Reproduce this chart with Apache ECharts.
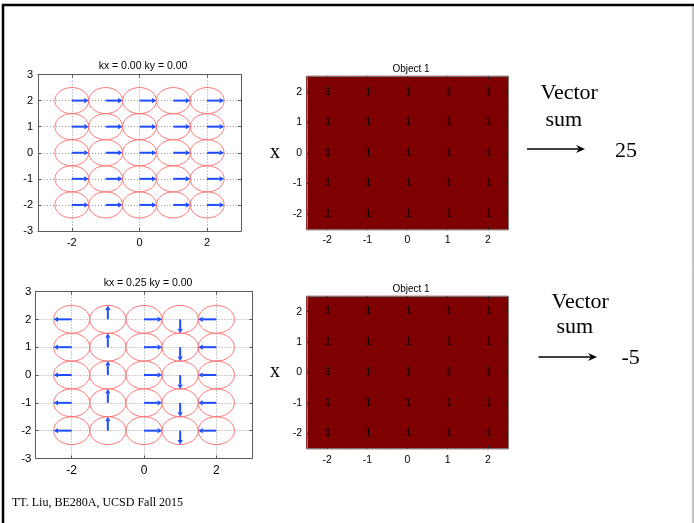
<!DOCTYPE html>
<html>
<head>
<meta charset="utf-8">
<script src="https://cdn.jsdelivr.net/npm/echarts@6/dist/echarts.min.js"></script>
<style>html,body{margin:0;padding:0;background:#fff}#main{width:694px;height:523px}</style>
</head>
<body>
<div id="main"></div>
<script>
// sample positions (both x and y) and labels
var gridPos = [-2, -1, 0, 1, 2];
var cellCats = ['-2', '-1', '0', '1', '2'];
var xTicksLeft = [-2, 0, 2];
var titlesLeft = ['kx = 0.00 ky = 0.00', 'kx = 0.25 ky = 0.00'];
var titleRight = 'Object 1';
// arrow direction per column, degrees counter-clockwise from +x
var dirTop = [0, 0, 0, 0, 0];
var dirBottom = [180, 90, 0, 270, 180];
// object values, rows from y=-2 up to y=2
var objValues = [
  [1, 1, 1, 1, 1],
  [1, 1, 1, 1, 1],
  [1, 1, 1, 1, 1],
  [1, 1, 1, 1, 1],
  [1, 1, 1, 1, 1]
];
var vectorSums = [25, -5];

var SANS = '"Liberation Sans", Arial, Helvetica, sans-serif';
var SERIF = '"Liberation Serif", "Times New Roman", serif';
var BLUE = '#1f4cff';
var RED = '#ff7676';
var BOX = '#5a5a5a';
var DARKRED = '#7f0000';

var myChart = echarts.init(document.getElementById('main'));

function circleData(){
  var d = [];
  for (var i = 0; i < gridPos.length; i++)
    for (var j = 0; j < gridPos.length; j++) d.push([gridPos[i], gridPos[j]]);
  return d;
}
function arrowData(dirs){
  var d = [];
  for (var i = 0; i < gridPos.length; i++)
    for (var j = 0; j < gridPos.length; j++) d.push([gridPos[i], gridPos[j], dirs[i]]);
  return d;
}
function heatData(){
  var d = [];
  for (var r = 0; r < objValues.length; r++)
    for (var c = 0; c < objValues[r].length; c++) d.push([c, r, objValues[r][c]]);
  return d;
}

function renderCircle(params, api){
  var c = api.coord([api.value(0), api.value(1)]);
  var s = api.size([1, 1]);
  return {
    type: 'ellipse',
    shape: {cx: c[0], cy: c[1], rx: s[0] * 0.5, ry: s[1] * 0.5},
    style: {fill: 'none', stroke: RED, lineWidth: 1}
  };
}
function renderArrow(params, api){
  var x = api.value(0), y = api.value(1), a = api.value(2) * Math.PI / 180;
  var p0 = api.coord([x, y]);
  var p1 = api.coord([x + 0.5 * Math.cos(a), y + 0.5 * Math.sin(a)]);
  var dx = p1[0] - p0[0], dy = p1[1] - p0[1];
  var len = Math.sqrt(dx * dx + dy * dy);
  var ux = dx / len, uy = dy / len, h = 4.5, w = 2.6;
  var bx = p1[0] - ux * h, by = p1[1] - uy * h;
  return {
    type: 'group',
    children: [
      {type: 'line', shape: {x1: p0[0], y1: p0[1], x2: bx, y2: by}, style: {stroke: BLUE, lineWidth: 2}},
      {type: 'polygon', shape: {points: [[p1[0], p1[1]], [bx - uy * w, by + ux * w], [bx + uy * w, by - ux * w]]}, style: {fill: BLUE}}
    ]
  };
}

// value axes for the quiver plots
function leftX(gi, fs, margin, top){
  return {
    gridIndex: gi, type: 'value', min: -3, max: 3, interval: 1,
    position: top ? 'top' : 'bottom',
    axisLine: {show: true, onZero: false, lineStyle: {color: BOX, width: 1}},
    axisTick: {show: true, inside: true, length: 3, customValues: xTicksLeft, lineStyle: {color: BOX}},
    axisLabel: {show: !top, customValues: xTicksLeft, color: '#000', fontSize: fs, fontFamily: SANS, margin: margin},
    splitLine: {show: !top, customValues: xTicksLeft, lineStyle: {type: [1, 2], color: '#9a9a9a'}}
  };
}
function leftY(gi, fs, margin, right){
  return {
    gridIndex: gi, type: 'value', min: -3, max: 3, interval: 1,
    position: right ? 'right' : 'left',
    axisLine: {show: true, onZero: false, lineStyle: {color: BOX, width: 1}},
    axisTick: {show: true, inside: true, length: 3, lineStyle: {color: BOX}},
    axisLabel: {show: !right, color: '#000', fontSize: fs, fontFamily: SANS, margin: margin},
    splitLine: {show: !right, lineStyle: {type: [1, 2], color: '#9a9a9a'}}
  };
}
// category axes for the object images
function catAxis(gi, pos, margin){
  var lab = (pos === 'bottom' || pos === 'left');
  return {
    gridIndex: gi, type: 'category', data: cellCats, position: pos, z: 5,
    axisLine: {show: true, onZero: false, lineStyle: {color: '#777', width: 1}},
    axisTick: {show: true, inside: true, alignWithLabel: true, length: 3, lineStyle: {color: '#222'}},
    axisLabel: {show: lab, color: '#000', fontSize: 10.5, fontFamily: SANS, margin: margin},
    splitLine: {show: false}
  };
}

function textEl(t, x, y, font, align){
  return {type: 'text', style: {text: t, x: x, y: y, font: font, fill: '#000', textAlign: align || 'left', textVerticalAlign: 'middle'}};
}
function arrowEl(x1, x2, y){
  return {type: 'group', children: [
    {type: 'line', shape: {x1: x1, y1: y, x2: x2 - 4, y2: y}, style: {stroke: '#000', lineWidth: 1.4}},
    {type: 'polygon', shape: {points: [[x2, y], [x2 - 9, y - 4], [x2 - 6, y], [x2 - 9, y + 4]]}, style: {fill: '#000'}}
  ]};
}

option = {
  animation: false,
  backgroundColor: '#fff',
  title: [
    {text: titlesLeft[0], left: 138, top: 56, textAlign: 'center', textStyle: {fontSize: 10.5, fontWeight: 'normal', fontFamily: SANS, color: '#000'}},
    {text: titlesLeft[1], left: 143, top: 272.5, textAlign: 'center', textStyle: {fontSize: 10.5, fontWeight: 'normal', fontFamily: SANS, color: '#000'}},
    {text: titleRight, left: 406, top: 59.5, textAlign: 'center', textStyle: {fontSize: 10, fontWeight: 'normal', fontFamily: SANS, color: '#000'}},
    {text: titleRight, left: 406, top: 279.5, textAlign: 'center', textStyle: {fontSize: 10, fontWeight: 'normal', fontFamily: SANS, color: '#000'}}
  ],
  grid: [
    {left: 38, top: 74.5, width: 203, height: 156.5},
    {left: 307, top: 76.5, width: 201, height: 153},
    {left: 35.5, top: 291.5, width: 217, height: 167},
    {left: 307, top: 296.5, width: 201, height: 152}
  ],
  xAxis: [
    leftX(0, 11, 6, false), leftX(0, 11, 6, true),
    catAxis(1, 'bottom', 5), catAxis(1, 'top', 5),
    leftX(2, 12, 6, false), leftX(2, 12, 6, true),
    catAxis(3, 'bottom', 6), catAxis(3, 'top', 6)
  ],
  yAxis: [
    leftY(0, 11, 5, false), leftY(0, 11, 5, true),
    catAxis(1, 'left', 5), catAxis(1, 'right', 5),
    leftY(2, 11.5, 4, false), leftY(2, 11.5, 4, true),
    catAxis(3, 'left', 5), catAxis(3, 'right', 5)
  ],
  visualMap: {
    show: false, type: 'continuous', min: 0, max: 1, dimension: 2, seriesIndex: [4, 5],
    inRange: {color: [DARKRED, DARKRED]}
  },
  series: [
    {type: 'custom', xAxisIndex: 0, yAxisIndex: 0, renderItem: renderCircle, data: circleData(), silent: true},
    {type: 'custom', xAxisIndex: 0, yAxisIndex: 0, renderItem: renderArrow, data: arrowData(dirTop), silent: true},
    {type: 'custom', xAxisIndex: 4, yAxisIndex: 4, renderItem: renderCircle, data: circleData(), silent: true},
    {type: 'custom', xAxisIndex: 4, yAxisIndex: 4, renderItem: renderArrow, data: arrowData(dirBottom), silent: true},
    {type: 'heatmap', xAxisIndex: 2, yAxisIndex: 2, data: heatData(),
      itemStyle: {borderColor: DARKRED, borderWidth: 1},
      label: {show: true, color: '#000', fontSize: 10, fontFamily: SANS, offset: [1, 0]}},
    {type: 'heatmap', xAxisIndex: 6, yAxisIndex: 6, data: heatData(),
      itemStyle: {borderColor: DARKRED, borderWidth: 1},
      label: {show: true, color: '#000', fontSize: 10, fontFamily: SANS, offset: [1, 0]}}
  ],
  graphic: [
    // slide frame
    {type: 'line', shape: {x1: 2, y1: 5, x2: 694, y2: 5}, style: {stroke: '#000', lineWidth: 2.5}},
    {type: 'line', shape: {x1: 3, y1: 4, x2: 3, y2: 523}, style: {stroke: '#000', lineWidth: 2.5}},
    {type: 'line', shape: {x1: 693, y1: 6, x2: 693, y2: 523}, style: {stroke: '#888', lineWidth: 1}},
    textEl('x', 275, 153, '20px ' + SERIF, 'center'),
    textEl('x', 275, 372, '20px ' + SERIF, 'center'),
    textEl('Vector', 540.5, 93.5, '22px ' + SERIF),
    textEl('sum', 545.5, 120, '22px ' + SERIF),
    arrowEl(527, 585, 149),
    textEl(String(vectorSums[0]), 615, 151, '22px ' + SERIF),
    textEl('Vector', 551.5, 302, '22px ' + SERIF),
    textEl('sum', 556.5, 327.5, '22px ' + SERIF),
    arrowEl(538.5, 597, 357),
    textEl(String(vectorSums[1]), 621.5, 358.5, '22px ' + SERIF),
    textEl('TT. Liu, BE280A, UCSD Fall 2015', 12, 503, '12px ' + SERIF)
  ]
};

myChart.setOption(option);
</script>
</body>
</html>
